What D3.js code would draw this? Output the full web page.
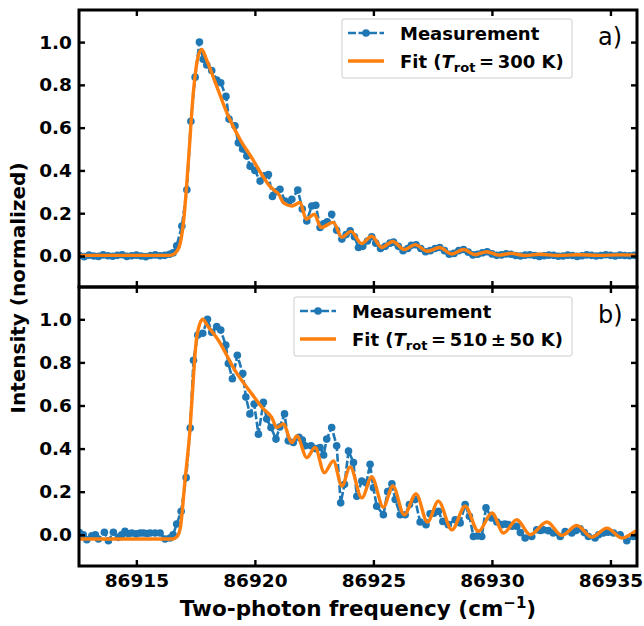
<!DOCTYPE html>
<html><head><meta charset="utf-8">
<script src="https://cdn.jsdelivr.net/npm/d3@7"></script>
<style>body{margin:0;background:#fff}svg{display:block;font-family:"DejaVu Sans",sans-serif}</style>
</head><body><svg id="c" width="644" height="626"></svg>
<script>
// ---- data ----
const xTicks = [86915, 86920, 86925, 86930, 86935];
const yTicks = [0.0, 0.2, 0.4, 0.6, 0.8, 1.0];

const measAx = [86912.6,86912.8,86913.0,86913.2,86913.4,86913.6,86913.8,86914.0,86914.2,86914.4,86914.6,86914.8,86915.0,86915.2,86915.4,86915.6,86915.8,86916.0,86916.2,86916.4,86916.55,86916.7,86916.92,86917.13,86917.3,86917.48,86917.66,86917.82,86917.97,86918.18,86918.39,86918.56,86918.78,86918.91,86919.16,86919.3,86919.48,86919.66,86919.8,86920.0,86920.22,86920.4,86920.57,86920.74,86920.9,86921.06,86921.27,86921.42,86921.56,86921.81,86922.0,86922.19,86922.4,86922.57,86922.75,86922.9,86923.05,86923.24,86923.45,86923.67,86923.85,86924.02,86924.2,86924.37,86924.55,86924.75,86924.93,86925.1,86925.3,86925.5,86925.7,86925.85,86926.05,86926.25,86926.45,86926.6,86926.8,86927.0,86927.2,86927.4,86927.6,86927.8,86928.0,86928.2,86928.4,86928.6,86928.8,86929.0,86929.2,86929.4,86929.6,86929.8,86930.0,86930.2,86930.4,86930.6,86930.8,86931.0,86931.2,86931.4,86931.6,86931.8,86932.0,86932.2,86932.4,86932.6,86932.8,86933.0,86933.2,86933.4,86933.6,86933.8,86934.0,86934.2,86934.4,86934.6,86934.8,86935.0,86935.2,86935.4,86935.6,86935.8,86936.0,86936.2];
const measAy = [0.002,-0.003,0.004,0.000,-0.002,0.005,0.001,-0.001,0.003,0.006,-0.002,0.001,0.004,0.000,-0.003,0.002,0.005,0.001,0.003,0.008,0.015,0.048,0.14,0.31,0.63,0.836,1.0,0.92,0.893,0.867,0.823,0.81,0.746,0.64,0.609,0.529,0.50,0.467,0.42,0.40,0.35,0.375,0.381,0.278,0.30,0.312,0.257,0.25,0.265,0.308,0.22,0.164,0.234,0.237,0.133,0.15,0.16,0.195,0.12,0.079,0.10,0.118,0.09,0.04,0.045,0.07,0.09,0.06,0.035,0.045,0.06,0.065,0.045,0.025,0.035,0.05,0.052,0.035,0.02,0.025,0.035,0.04,0.025,0.008,0.012,0.025,0.03,0.018,0.005,0.008,0.015,0.02,0.01,0.003,0.005,0.01,0.008,0.002,0.000,0.004,0.006,0.002,-0.002,0.001,0.004,0.003,-0.001,0.000,0.004,0.002,-0.002,0.001,0.005,0.003,0.000,0.002,0.006,0.003,0.000,0.004,0.002,0.001,0.003,0.002];

const fitAx = [86912.6,86916.4,86916.6,86916.8,86917.0,86917.2,86917.4,86917.6,86917.76,86917.95,86918.3,86918.88,86919.4,86919.87,86920.29,86920.6,86920.85,86921.0,86921.2,86921.56,86921.91,86922.16,86922.51,86922.79,86923.31,86923.67,86924.05,86924.5,86924.93,86925.35,86925.82,86926.3,86926.76,86927.28,86927.79,86928.31,86928.8,86929.29,86929.78,86930.3,86930.8,86931.4,86932.0,86932.8,86933.6,86934.5,86935.4,86936.2];
const fitAy = [0.003,0.003,0.01,0.04,0.17,0.45,0.76,0.93,0.966,0.92,0.82,0.653,0.54,0.459,0.381,0.33,0.304,0.29,0.25,0.234,0.25,0.172,0.195,0.133,0.157,0.087,0.115,0.058,0.092,0.04,0.068,0.03,0.053,0.022,0.04,0.009,0.03,0.006,0.02,0.004,0.012,0.002,0.008,0.002,0.006,0.003,0.005,0.004];

const measBx = [86912.6,86912.76,86912.91,86913.12,86913.27,86913.4,86913.65,86913.82,86914.03,86914.24,86914.38,86914.52,86914.66,86914.81,86915.0,86915.16,86915.3,86915.45,86915.58,86915.79,86916.0,86916.21,86916.42,86916.55,86916.7,86916.89,86917.1,86917.27,86917.41,86917.59,86917.8,86918.0,86918.18,86918.39,86918.56,86918.77,86918.88,86919.05,86919.26,86919.49,86919.62,86919.79,86919.97,86920.15,86920.36,86920.5,86920.68,86920.89,86921.05,86921.25,86921.41,86921.62,86921.86,86922.0,86922.12,86922.37,86922.55,86922.75,86922.9,86923.03,86923.24,86923.45,86923.62,86923.78,86923.95,86924.16,86924.3,86924.51,86924.7,86924.86,86925.0,86925.14,86925.42,86925.6,86925.78,86925.92,86926.13,86926.34,86926.52,86926.76,86926.97,86927.22,86927.39,86927.55,86927.74,86927.93,86928.16,86928.45,86928.66,86928.87,86929.05,86929.22,86929.4,86929.57,86929.75,86929.99,86930.21,86930.42,86930.55,86930.69,86930.85,86931.05,86931.2,86931.4,86931.68,86931.89,86932.05,86932.17,86932.38,86932.59,86932.88,86933.09,86933.37,86933.55,86933.72,86933.9,86934.07,86934.35,86934.5,86934.7,86934.9,86935.13,86935.41,86935.69,86935.97,86936.2];
const measBy = [0.01,0.0,-0.023,-0.005,0.0,-0.02,0.012,-0.028,0.012,-0.012,0.0,0.016,0.005,0.008,0.004,0.008,0.008,0.006,0.008,0.008,0.008,-0.02,-0.015,0.0,0.05,0.109,0.265,0.495,0.81,0.927,0.935,1.0,0.94,0.966,0.95,0.88,0.795,0.724,0.833,0.748,0.639,0.561,0.607,0.467,0.615,0.537,0.498,0.444,0.50,0.561,0.436,0.428,0.452,0.44,0.413,0.413,0.40,0.405,0.37,0.444,0.498,0.413,0.148,0.234,0.389,0.335,0.179,0.249,0.24,0.327,0.218,0.132,0.093,0.20,0.237,0.164,0.093,0.093,0.14,0.164,0.059,0.047,0.097,0.10,0.109,0.062,0.047,0.07,0.055,0.14,0.086,-0.008,-0.005,-0.008,0.125,0.078,0.059,0.047,0.05,0.047,0.04,0.039,0.01,-0.015,-0.008,0.023,0.02,0.023,0.019,0.008,-0.008,0.015,0.008,0.02,0.028,0.01,-0.008,-0.015,0.0,0.008,0.012,0.008,0.0,-0.028,-0.008,0.0];

const fitBx = [86912.6,86916.5,86916.7,86916.85,86917.05,86917.27,86917.4,86917.55,86917.8,86918.0,86918.46,86919.16,86919.87,86920.36,86920.71,86920.92,86921.2,86921.56,86921.77,86922.19,86922.54,86922.93,86923.31,86923.67,86924.02,86924.51,86924.93,86925.42,86925.82,86926.3,86926.8,86927.28,86927.74,86928.31,86928.87,86929.43,86930.0,86930.49,86931.05,86931.61,86932.32,86932.95,86933.58,86934.22,86934.85,86935.48,86936.04,86936.3];
const fitBy = [-0.02,-0.02,-0.01,0.03,0.25,0.5,0.72,0.92,1.0,0.97,0.903,0.763,0.654,0.584,0.545,0.498,0.514,0.428,0.459,0.358,0.405,0.288,0.343,0.226,0.315,0.171,0.268,0.128,0.226,0.093,0.19,0.059,0.156,0.023,0.132,0.016,0.101,0.008,0.07,0.0,0.059,-0.003,0.043,-0.011,0.031,-0.015,0.015,0.03];

const panels = [
  {mx: measAx, my: measAy, fx: fitAx, fy: fitAy, top: 10, bottom: 287, tag: "a)", lx: 342, ly: 19, lw: 230, tempText: "\u2009=\u2009300 K)", tagY: 45},
  {mx: measBx, my: measBy, fx: fitBx, fy: fitBy, top: 287, bottom: 566, tag: "b)", lx: 294, ly: 297, lw: 278, tempText: "\u2009=\u2009510\u2009\u00b1\u200950 K)", tagY: 323}
];

// ---- drawing ----
const svg = d3.select("#c");
const L = 79, R = 637;
const x = d3.scaleLinear().domain([86912.58, 86936.12]).range([L, R]);
const blue = "#1f77b4", orange = "#ff7f0e";
const FONT = "DejaVu Sans";

panels.forEach((p, i) => {
  const y = d3.scaleLinear().domain([-0.145, 1.15]).range([p.bottom, p.top]);
  const g = svg.append("g");
  const cid = "clip" + i;
  svg.append("clipPath").attr("id", cid).append("rect")
    .attr("x", L).attr("y", p.top).attr("width", R - L).attr("height", p.bottom - p.top);
  const plot = g.append("g").attr("clip-path", `url(#${cid})`);

  const meas = p.mx.map((v, k) => [v, p.my[k]]);
  const fit = p.fx.map((v, k) => [v, p.fy[k]]);

  plot.append("path").datum(meas)
    .attr("d", d3.line().x(d => x(d[0])).y(d => y(d[1])))
    .attr("fill", "none").attr("stroke", blue).attr("stroke-width", 2.6)
    .attr("stroke-dasharray", "8,2.5");
  plot.selectAll("circle.m").data(meas).enter().append("circle")
    .attr("cx", d => x(d[0])).attr("cy", d => y(d[1])).attr("r", 3.8).attr("fill", blue);
  plot.append("path").datum(fit)
    .attr("d", d3.line().curve(d3.curveMonotoneX).x(d => x(d[0])).y(d => y(d[1])))
    .attr("fill", "none").attr("stroke", orange).attr("stroke-width", 3.4)
    .attr("stroke-linejoin", "round");

  // axes with inward ticks
  const styleAx = sel => {
    sel.select(".domain").remove();
    sel.selectAll(".tick line").attr("stroke", "#000").attr("stroke-width", 2.4);
    sel.selectAll("text").attr("font-family", FONT).attr("font-weight", "bold")
      .attr("font-size", 18.5).attr("fill", "#000");
  };
  g.append("g").attr("transform", `translate(${L},0)`)
    .call(d3.axisLeft(y).tickValues(yTicks).tickSize(-6).tickPadding(7).tickFormat(d3.format(".1f")))
    .call(styleAx);
  g.append("g").attr("transform", `translate(${R},0)`)
    .call(d3.axisRight(y).tickValues(yTicks).tickSize(-6).tickFormat(""))
    .call(styleAx);
  g.append("g").attr("transform", `translate(0,${p.top})`)
    .call(d3.axisTop(x).tickValues(xTicks).tickSize(-6).tickFormat(""))
    .call(styleAx);
  g.append("g").attr("transform", `translate(0,${p.bottom})`)
    .call(d3.axisBottom(x).tickValues(xTicks).tickSize(-6).tickPadding(8)
      .tickFormat(i === 1 ? d3.format("d") : ""))
    .call(styleAx);

  g.append("rect").attr("x", L).attr("y", p.top).attr("width", R - L).attr("height", p.bottom - p.top)
    .attr("fill", "none").attr("stroke", "#000").attr("stroke-width", 3);

  // legend
  const lg = g.append("g");
  lg.append("rect").attr("x", p.lx).attr("y", p.ly).attr("width", p.lw).attr("height", 59)
    .attr("rx", 2).attr("fill", "#fff").attr("fill-opacity", 0.8).attr("stroke", "#cccccc").attr("stroke-width", 1);
  const hx = p.lx + 6, r1 = p.ly + 14, r2 = p.ly + 42;
  lg.append("line").attr("x1", hx).attr("x2", hx + 36).attr("y1", r1).attr("y2", r1)
    .attr("stroke", blue).attr("stroke-width", 2.6).attr("stroke-dasharray", "8,2.5");
  lg.append("circle").attr("cx", hx + 18).attr("cy", r1).attr("r", 3.8).attr("fill", blue);
  lg.append("line").attr("x1", hx).attr("x2", hx + 36).attr("y1", r2).attr("y2", r2)
    .attr("stroke", orange).attr("stroke-width", 3.4);
  const tx = hx + 52;
  lg.append("text").attr("x", tx).attr("y", r1 + 6.5).attr("font-family", FONT).attr("font-weight", "bold")
    .attr("font-size", 18).text("Measurement");
  const t2 = lg.append("text").attr("x", tx).attr("y", r2 + 6.5).attr("font-family", FONT)
    .attr("font-weight", "bold").attr("font-size", 18);
  t2.append("tspan").text("Fit (");
  t2.append("tspan").attr("font-style", "italic").text("T");
  t2.append("tspan").attr("font-size", 13).attr("dy", 4).text("rot");
  t2.append("tspan").attr("dy", -4).text(p.tempText);

  g.append("text").attr("x", 598).attr("y", p.tagY).attr("font-family", FONT)
    .attr("font-size", 24).text(p.tag);
});

const xl = svg.append("text").attr("x", (L + R) / 2).attr("y", 616).attr("text-anchor", "middle")
  .attr("font-family", FONT).attr("font-weight", "bold").attr("font-size", 21.5);
xl.append("tspan").text("Two-photon frequency (cm");
xl.append("tspan").attr("font-size", 15).attr("dy", -8).text("\u22121");
xl.append("tspan").attr("dy", 8).text(")");

svg.append("text").attr("x", 0).attr("y", 0)
  .attr("transform", "translate(25,288) rotate(-90)").attr("text-anchor", "middle")
  .attr("font-family", FONT).attr("font-weight", "bold").attr("font-size", 20)
  .text("Intensity (normalized)");
</script>
</body></html>
